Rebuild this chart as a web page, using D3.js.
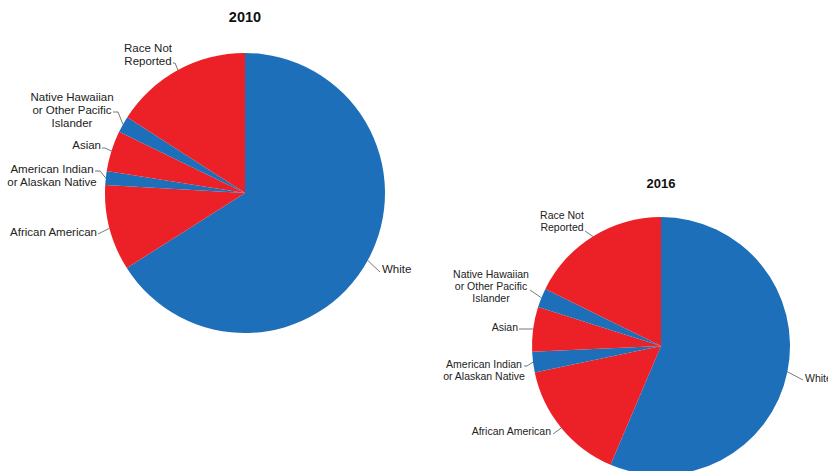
<!DOCTYPE html>
<html>
<head>
<meta charset="utf-8">
<script src="https://cdn.jsdelivr.net/npm/d3@7"></script>
<style>
  html, body { margin: 0; padding: 0; background: #fff; }
  svg { display: block; font-family: "Liberation Sans", Arial, sans-serif; }
</style>
</head>
<body>
<svg id="chart" width="828" height="471"></svg>
<script>
// Student race/ethnicity shares (percent), 2010 vs 2016
const categories = [
  "White",
  "African American",
  "American Indian or Alaskan Native",
  "Asian",
  "Native Hawaiian or Other Pacific Islander",
  "Race Not Reported"
];
const labelLines = [
  ["White"],
  ["African American"],
  ["American Indian", "or Alaskan Native"],
  ["Asian"],
  ["Native Hawaiian", "or Other Pacific", "Islander"],
  ["Race Not", "Reported"]
];
const values2010 = [66.0, 9.9, 1.6, 4.7, 1.9, 15.9];
const values2016 = [56.4, 15.3, 2.6, 5.6, 2.4, 17.7];
const years = ["2010", "2016"];

const sliceColors = ["#1c6fb8", "#ec2127", "#1c6fb8", "#ec2127", "#1c6fb8", "#ec2127"];

// Layout for each pie: centre, radius, title, and where each label sits.
// Label entries: text x, first line y, anchor, line gap, leader start point.
const layouts = [
  {
    cx: 245, cy: 193, r: 140, titleY: 22, titleSize: 14.5, fontSize: 11.5, gap: 13.2,
    labels: [
      { x: 382, y: 269, anchor: "start",  lx: 380, ly: 272 },
      { x: 97,  y: 232, anchor: "end",    lx: 98,  ly: 234 },
      { x: 52,  y: 169, anchor: "middle", lx: 95,  ly: 171, hx: 100 },
      { x: 101, y: 145, anchor: "end",    lx: 102, ly: 148, hx: 105 },
      { x: 72,  y: 97,  anchor: "middle", lx: 113, ly: 112, hx: 118 },
      { x: 148, y: 48,  anchor: "middle", lx: 173, ly: 63,  hx: 175 }
    ]
  },
  {
    cx: 661, cy: 346, r: 129, titleY: 188, titleSize: 13, fontSize: 10.5, gap: 12.4,
    labels: [
      { x: 805, y: 378, anchor: "start",  lx: 803, ly: 380 },
      { x: 551, y: 431, anchor: "end",    lx: 553, ly: 434 },
      { x: 484, y: 364, anchor: "middle", lx: 524, ly: 366, hx: 527 },
      { x: 518, y: 327, anchor: "end",    lx: 519, ly: 329, hx: 524 },
      { x: 491, y: 274, anchor: "middle", lx: 530, ly: 290 },
      { x: 562, y: 215, anchor: "middle", lx: 585, ly: 231 }
    ]
  }
];

const svg = d3.select("#chart");
const pie = d3.pie().sort(null).value(d => d);
const series = [values2010, values2016];

series.forEach((vals, i) => {
  const L = layouts[i];
  const arcs = pie(vals);
  const arc = d3.arc().innerRadius(0).outerRadius(L.r);
  const edge = d3.arc().innerRadius(L.r).outerRadius(L.r);

  const g = svg.append("g");

  g.append("text")
    .attr("x", L.cx)
    .attr("y", L.titleY)
    .attr("text-anchor", "middle")
    .attr("font-weight", "bold")
    .attr("font-size", L.titleSize)
    .attr("fill", "#111")
    .text(years[i]);

  const pieG = g.append("g").attr("transform", `translate(${L.cx},${L.cy})`);
  pieG.selectAll("path.slice")
    .data(arcs)
    .join("path")
    .attr("class", "slice")
    .attr("d", arc)
    .attr("fill", (d, j) => sliceColors[j]);

  // Leader lines from the rim of each slice to its label
  arcs.forEach((d, j) => {
    const lab = L.labels[j];
    const [ex, ey] = edge.centroid(d);
    const pts = [[lab.lx, lab.ly]];
    if (lab.hx !== undefined) pts.push([lab.hx, lab.ly]);
    pts.push([L.cx + ex, L.cy + ey]);
    g.append("path")
      .attr("d", d3.line()(pts))
      .attr("fill", "none")
      .attr("stroke", "#555")
      .attr("stroke-width", 0.8);

    const t = g.append("text")
      .attr("text-anchor", lab.anchor)
      .attr("font-size", L.fontSize)
      .attr("fill", "#222");
    labelLines[j].forEach((line, k) => {
      t.append("tspan")
        .attr("x", lab.x)
        .attr("y", lab.y + k * L.gap)
        .attr("dy", "0.35em")
        .text(line);
    });
  });
});
</script>
</body>
</html>
